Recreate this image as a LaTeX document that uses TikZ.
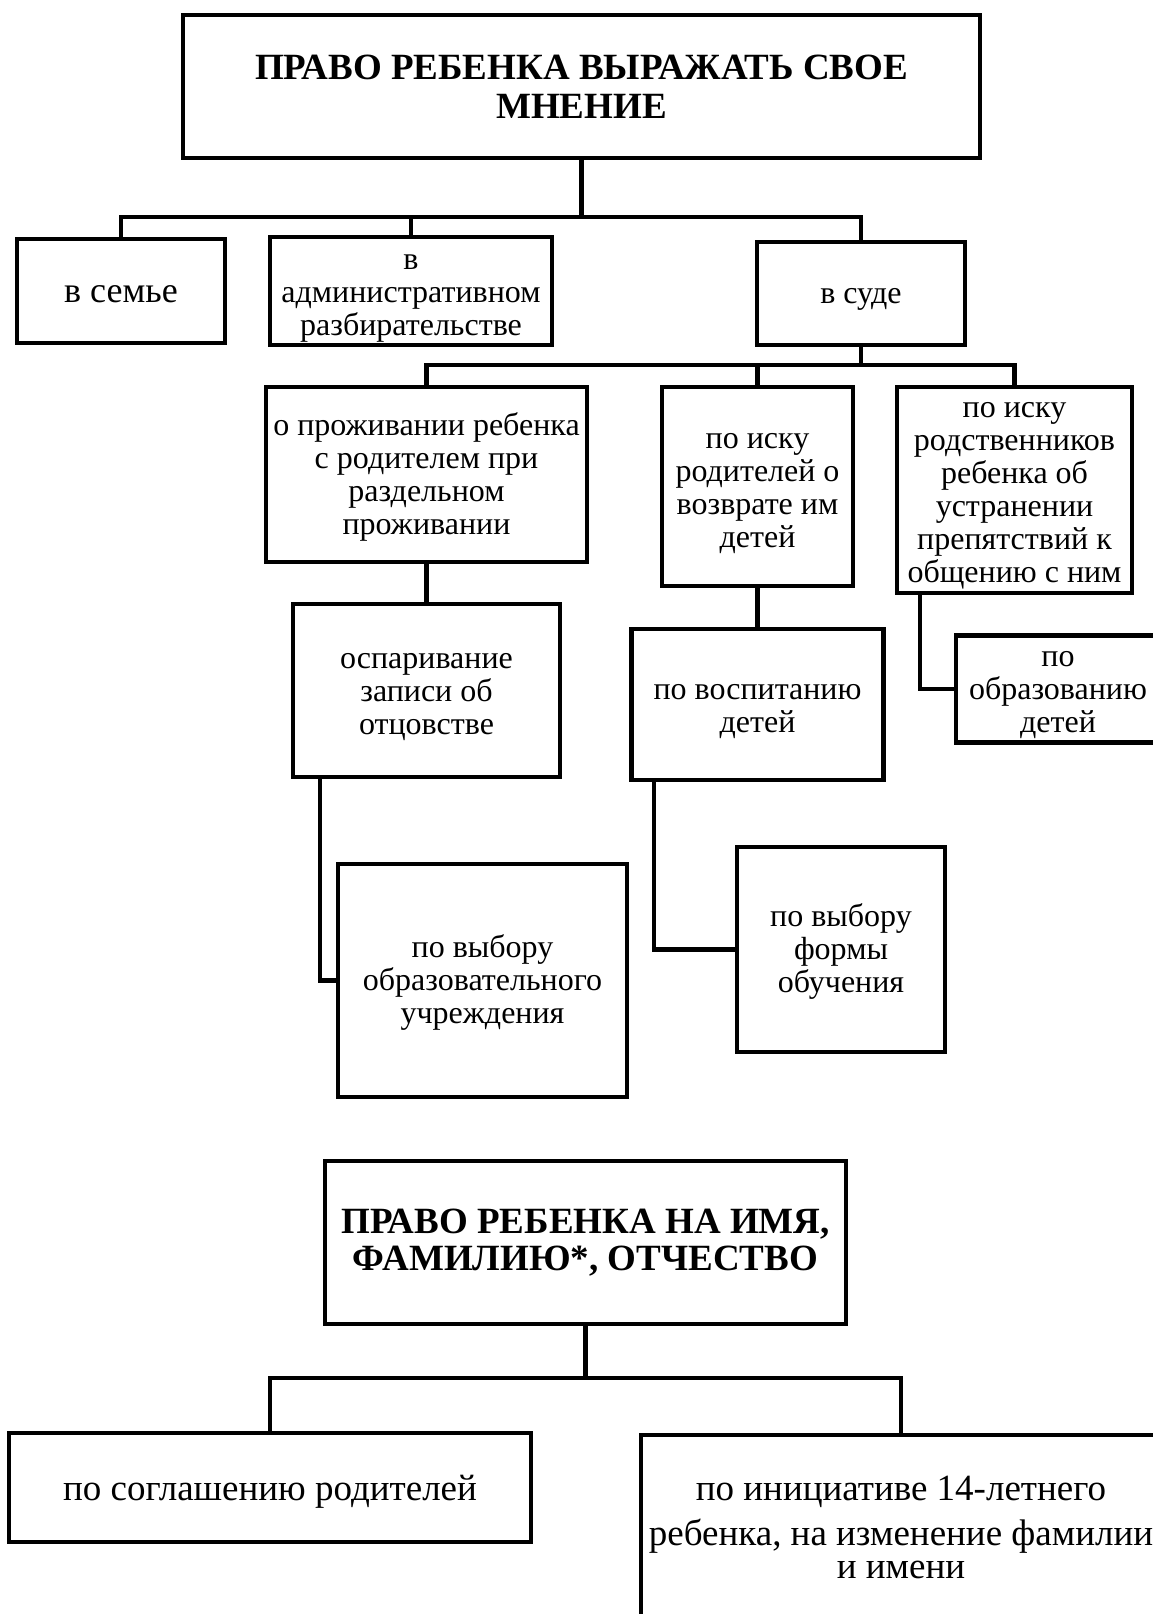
\documentclass[tikz,border=0pt]{standalone}
\usepackage{fontspec}
\setmainfont{Liberation Serif}
\begin{document}
\begin{tikzpicture}[x=1pt,y=-1pt,
  box/.style={draw, line width=4.3pt, align=center, inner sep=2pt,
    font=\fontsize{32}{33}\selectfont},
  big/.style={font=\fontsize{37}{33}\selectfont},
  titlebox/.style={box, font=\fontsize{37}{39}\selectfont\bfseries},
  conn/.style={line width=4.3pt}]
\useasboundingbox (0,0) rectangle (1153,1614);
\clip (0,0) rectangle (1153,1614);
\fill[white] (0,0) rectangle (1153,1614);

% upper tree
\node[titlebox, minimum width=797, minimum height=143] (t1) at (581.5,86.5)
  {ПРАВО РЕБЕНКА ВЫРАЖАТЬ СВОЕ\\МНЕНИЕ};
\node[box, font=\fontsize{36}{33}\selectfont, text height=30pt, text depth=8pt,
  minimum width=208, minimum height=104] (semye) at (121,291) {в семье};
\node[box, text height=96pt, text depth=8pt, minimum width=282, minimum height=104] (admin) at (411,291)
  {в\\административном\\разбирательстве};
\node[box, text height=28pt, text depth=8pt, minimum width=208, minimum height=103] (sude) at (861,293.5) {в суде};

\node[box, text height=128pt, text depth=8pt, minimum width=321, minimum height=175] (b1) at (426.5,474.5)
  {о проживании ребенка\\с родителем при\\раздельном\\проживании};
\node[box, text height=129pt, text depth=8pt, minimum width=191, minimum height=199] (b2) at (757.5,486.5)
  {по иску\\родителей о\\возврате им\\детей};
\node[box, text height=193pt, text depth=8pt, minimum width=235, minimum height=206] (b3) at (1014.5,490)
  {по иску\\родственников\\ребенка об\\устранении\\препятствий к\\общению с ним};

\node[box, text height=96pt, text depth=8pt, minimum width=267, minimum height=173] (osp) at (426.5,690.5)
  {оспаривание\\записи об\\отцовстве};
\node[box, text height=63pt, text depth=8pt, minimum width=252, minimum height=151] (vos) at (757.5,704.5)
  {по воспитанию\\детей};
\node[box, text height=95pt, text depth=8pt, minimum width=204, minimum height=104] (obr) at (1058,689)
  {по\\образованию\\детей};
\node[box, text height=94pt, text depth=8pt, minimum width=289, minimum height=233] (vyb) at (482.5,980.5)
  {по выбору\\образовательного\\учреждения};
\node[box, text height=94pt, text depth=8pt, minimum width=208, minimum height=205] (forma) at (841,949.5)
  {по выбору\\формы\\обучения};

\draw[conn] (t1.south) -- (t1.south |- 0,217);
\draw[conn] (semye.north) |- (sude.north |- 0,217) -- (sude.north);
\draw[conn] (admin.north) -- (admin.north |- 0,217);
\draw[conn] (sude.south) -- (sude.south |- 0,365);
\draw[conn] (b1.north) |- (b3.north |- 0,365) -- (b3.north);
\draw[conn] (b2.north) -- (b2.north |- 0,365);
\draw[conn] (b1.south) -- (osp.north);
\draw[conn] (b2.south) -- (vos.north);
\draw[conn] (b3.south -| 920,0) |- (obr.west);
\draw[conn] (osp.south -| 320,0) |- (vyb.west);
\draw[conn] (vos.south -| 654,0) |- (forma.west);

% lower tree
\node[titlebox, font=\fontsize{37}{37}\selectfont\bfseries,
  minimum width=521, minimum height=163] (t2) at (585.5,1242.5)
  {ПРАВО РЕБЕНКА НА ИМЯ,\\ФАМИЛИЮ*, ОТЧЕСТВО};
\node[box, big, text height=33pt, text depth=8pt, minimum width=522, minimum height=109] (bl) at (270,1487.5)
  {по соглашению родителей};
\node[box, big, anchor=north, minimum width=520, inner sep=0pt,
  text height=143.5pt, text depth=120pt] (br) at (901,1433)
  {по инициативе 14-летнего\\[11pt]ребенка, на изменение фамилии\\и имени};

\draw[conn] (t2.south) -- (t2.south |- 0,1378);
\draw[conn] (bl.north) |- (br.north |- 0,1378) -- (br.north);
\end{tikzpicture}
\end{document}
